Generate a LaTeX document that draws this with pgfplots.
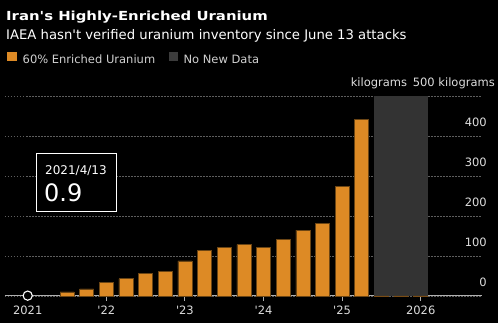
\documentclass[border=0pt]{standalone}
\usepackage{pgfplots}
\pgfplotsset{compat=1.18}
\usepackage{fontspec}
\setmainfont{DejaVu Sans}
\newfontfamily\df{DejaVu Sans}
\newfontfamily\dftitle{DejaVu Sans Bold}[FakeStretch=1.19]
\definecolor{barorange}{HTML}{DD8A25}
\definecolor{baredge}{HTML}{6B4514}
\definecolor{nodata}{HTML}{333333}
\definecolor{nodataleg}{HTML}{3C3C3C}
\definecolor{gridc}{HTML}{5E5E5E}
\definecolor{axisc}{HTML}{B0B0B0}
\definecolor{labc}{HTML}{DDDDDD}
\definecolor{legc}{HTML}{D0D0D0}
\begin{document}
\begin{tikzpicture}[x=1pt,y=1pt]
\fill[black] (0,0) rectangle (498,323);
\useasboundingbox (0,0) rectangle (498,323);
\begin{axis}[
  at={(5pt,27pt)}, anchor=south west,
  scale only axis, width=477pt, height=200pt,
  xmin=2020.711, xmax=2026.78, ymin=0, ymax=500,
  clip=false,
  axis x line*=bottom, axis y line*=right,
  x axis line style={draw=axisc, line width=1pt, -},
  y axis line style={draw=none},
  xtick={2021,2022,2023,2024,2025,2026},
  xticklabels={2021,{\char"27 22},{\char"27 23},{\char"27 24},{\char"27 25},2026},
  ytick={0,100,200,300,400,500},
  yticklabels={0,100,200,300,400,{}},
  tick align=outside, major tick length=5pt,
  xtick style={draw=axisc, line width=1pt},
  ytick style={draw=none},
  ymajorgrids,
  major grid style={gridc, dash pattern=on 1.5pt off 1.5pt, line width=0.8pt},
  /pgf/number format/assume math mode=true,
  every tick label/.append style={font=\df\fontsize{11.5}{13}\selectfont, text=labc},
  yticklabel style={anchor=base east, inner sep=0pt, yshift=9pt},
  xticklabel style={anchor=base, inner sep=0pt, yshift=-14pt},
  legend style={draw=none, fill=none, inner sep=0pt, outer sep=0pt,
    at={(axis description cs:0.0042,1.1875)}, anchor=west,
    legend columns=2, font=\df\fontsize{11.5}{13}\selectfont, text=legc,
    /tikz/every even column/.append style={column sep=14pt},
    nodes={inner sep=0pt}},
  legend cell align=left,
]
\addlegendimage{legend image code/.code={\fill[barorange] (0pt,-0.5pt) rectangle (9.3pt,8pt);}}
\addlegendentry{\hspace{6pt}60\% Enriched Uranium}
\addlegendimage{legend image code/.code={\fill[nodataleg] (0pt,-0.5pt) rectangle (8pt,8pt);}}
\addlegendentry{\hspace{6pt}No New Data}
% no-new-data region
\addplot[fill=nodata, draw=none, forget plot] coordinates {(2025.405,0) (2025.405,500) (2026.096,500) (2026.096,0)} -- cycle;
% bars
\addplot[ybar, bar width=14pt, fill=barorange, draw=baredge, line width=0.6pt, forget plot] coordinates {
(2021.50,10) (2021.75,17.7) (2022.00,33.2) (2022.25,43.1) (2022.50,55.6) (2022.75,62.3)
(2023.00,87.5) (2023.25,114.1) (2023.50,121.6) (2023.75,128.3) (2024.00,121.5) (2024.25,142.1)
(2024.50,164.7) (2024.75,182.3) (2025.00,274.8) (2025.25,440.9)};
% placeholder bars (no new data)
\addplot[ybar, bar width=15pt, fill=barorange!55!black, draw=none, forget plot] coordinates {
(2025.50,-2.5) (2025.75,-2.5) (2026.00,-2.5)};
% highlighted point
\addplot[only marks, mark=*, mark size=4.6pt, mark options={fill=black, draw=white, line width=1.1pt}, forget plot] coordinates {(2021.0,0.9)};
\end{axis}
% titles
\node[anchor=base west, inner sep=0pt, text=white, font=\dftitle\fontsize{12.5}{14}\selectfont] at (6,302) {Iran\char"27 s Highly-Enriched Uranium};
\node[anchor=base west, inner sep=0pt, text=white, font=\df\fontsize{13.2}{15}\selectfont] at (6,283.5) {IAEA hasn\char"27 t verified uranium inventory since June 13 attacks};
% units
\node[anchor=base east, inner sep=0pt, text=labc, font=\df\fontsize{11.5}{13}\selectfont] at (407.3,236) {kilograms};
\node[anchor=base east, inner sep=0pt, text=labc, font=\df\fontsize{11.5}{13}\selectfont] at (495,236) {500 kilograms};
% tooltip
\draw[white, line width=1pt, fill=black] (36,169) rectangle (116,111);
\node[anchor=base west, inner sep=0pt, text=white, font=\df\fontsize{12}{14}\selectfont] at (45,148) {2021/4/13};
\node[anchor=base west, inner sep=0pt, text=white, font=\df\fontsize{24}{28}\selectfont] at (44,121.5) {0.9};
\end{tikzpicture}
\end{document}
